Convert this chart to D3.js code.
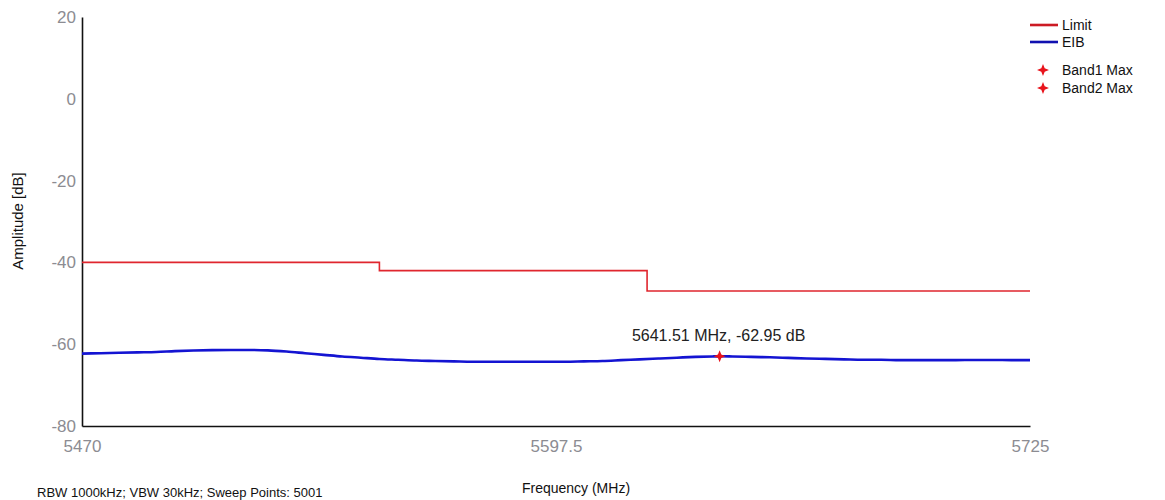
<!DOCTYPE html>
<html>
<head>
<meta charset="utf-8">
<script src="https://cdn.jsdelivr.net/npm/d3@7"></script>
<style>
  html, body { margin: 0; padding: 0; background: #fff; overflow: hidden; }
  svg { display: block; font-family: "Liberation Sans", Arial, sans-serif; }
</style>
</head>
<body>
<svg id="chart" width="1165" height="500"></svg>
<script>
// Frequency sweep (MHz) and measured EIB amplitude (dB)
const eibFreq = [5470, 5475, 5480, 5485, 5490, 5495, 5500, 5505, 5510, 5515,
  5520, 5525, 5530, 5535, 5540, 5545, 5550, 5555, 5560, 5565,
  5570, 5575, 5580, 5585, 5590, 5595, 5600, 5605, 5610, 5615,
  5620, 5625, 5630, 5635, 5640, 5641.51, 5645, 5650, 5655, 5660,
  5665, 5670, 5675, 5680, 5685, 5690, 5695, 5700, 5705, 5710,
  5715, 5720, 5725];
const eibAmp = [-62.3, -62.2, -62.1, -62.0, -61.9, -61.7, -61.55, -61.45, -61.4, -61.4,
  -61.5, -61.8, -62.2, -62.6, -63.0, -63.3, -63.6, -63.8, -64.0, -64.1,
  -64.2, -64.3, -64.3, -64.3, -64.3, -64.3, -64.3, -64.2, -64.1, -63.9,
  -63.7, -63.5, -63.3, -63.1, -62.98, -62.95, -63.0, -63.1, -63.2, -63.35,
  -63.5, -63.6, -63.7, -63.8, -63.8, -63.9, -63.9, -63.9, -63.9, -63.85,
  -63.85, -63.9, -63.9];

// Limit mask: step edges (MHz) and level (dB)
const limitFreq = [5470, 5550, 5550, 5622, 5622, 5725];
const limitAmp  = [-40, -40, -42, -42, -47, -47];

// Band maximum marker
const maxFreq = [5641.51];
const maxAmp  = [-62.95];
const maxLabel = ["5641.51 MHz, -62.95 dB"];

// Axis ticks
const xTicks = [5470, 5597.5, 5725];
const xTickLabels = ["5470", "5597.5", "5725"];
const yTicks = [20, 0, -20, -40, -60, -80];

// Legend
const legendNames = ["Limit", "EIB", "Band1 Max", "Band2 Max"];
const legendKinds = ["line", "line", "star", "star"];

const colLimit = "#e0262e";
const colEIB = "#1414d2";
const colMax = "#e8141c";

const svg = d3.select("#chart");

const x = d3.scaleLinear().domain([5470, 5725]).range([82, 1030]);
const y = d3.scaleLinear().domain([-80, 20]).range([426, 17]);

// Four-pointed star symbol for maximum markers
const star4 = {
  draw(ctx, size) {
    const r = Math.sqrt(size) * 0.75, k = r * 0.28;
    ctx.moveTo(0, -r);
    ctx.lineTo(k, -k);
    ctx.lineTo(r, 0);
    ctx.lineTo(k, k);
    ctx.lineTo(0, r);
    ctx.lineTo(-k, k);
    ctx.lineTo(-r, 0);
    ctx.lineTo(-k, -k);
    ctx.closePath();
  }
};

// Axes
const yAxis = svg.append("g")
  .attr("transform", `translate(${x.range()[0]},0)`)
  .call(d3.axisLeft(y).tickValues(yTicks).tickFormat(d => String(d))
    .tickSize(0).tickSizeOuter(0).tickPadding(6));
const xAxis = svg.append("g")
  .attr("transform", `translate(0,${y.range()[0]})`)
  .call(d3.axisBottom(x).tickValues(xTicks).tickFormat((d, i) => xTickLabels[i])
    .tickSize(0).tickSizeOuter(0).tickPadding(14));

[yAxis, xAxis].forEach(g => {
  g.select(".domain").attr("stroke", "#111").attr("stroke-width", 1.6);
  g.selectAll("text").attr("fill", "#8c8c92").attr("font-size", 17)
    .attr("font-family", "'Liberation Sans', Arial, sans-serif");
});

// Limit line
const line = d3.line().x(d => x(d[0])).y(d => y(d[1]));
svg.append("path")
  .datum(limitFreq.map((f, i) => [f, limitAmp[i]]))
  .attr("fill", "none").attr("stroke", colLimit).attr("stroke-width", 1.6)
  .attr("d", line);

// EIB trace
svg.append("path")
  .datum(eibFreq.map((f, i) => [f, eibAmp[i]]))
  .attr("fill", "none").attr("stroke", colEIB).attr("stroke-width", 2.6)
  .attr("stroke-linejoin", "round")
  .attr("d", line.curve(d3.curveMonotoneX));

// Max marker and its label
const sym = d3.symbol().type(star4).size(64);
maxFreq.forEach((f, i) => {
  svg.append("path")
    .attr("transform", `translate(${x(f)},${y(maxAmp[i])})`)
    .attr("fill", colMax).attr("d", sym);
  svg.append("text")
    .attr("x", x(f) - 1).attr("y", y(maxAmp[i]) - 15)
    .attr("text-anchor", "middle")
    .attr("font-size", 16).attr("fill", "#222")
    .text(maxLabel[i]);
});

// Axis titles
svg.append("text")
  .attr("transform", "translate(23,221) rotate(-90)")
  .attr("text-anchor", "middle").attr("font-size", 15).attr("fill", "#111")
  .text("Amplitude [dB]");
svg.append("text")
  .attr("x", 576).attr("y", 493)
  .attr("text-anchor", "middle").attr("font-size", 14).attr("fill", "#111")
  .text("Frequency (MHz)");

// Sweep settings footer
svg.append("text")
  .attr("x", 37).attr("y", 497)
  .attr("font-size", 13).attr("fill", "#111")
  .text("RBW 1000kHz; VBW 30kHz; Sweep Points: 5001");

// Legend
const legendY = [25, 42, 70, 88];
const legend = svg.append("g");
legendNames.forEach((name, i) => {
  const ly = legendY[i];
  if (legendKinds[i] === "line") {
    legend.append("line")
      .attr("x1", 1030).attr("x2", 1058).attr("y1", ly).attr("y2", ly)
      .attr("stroke", i === 0 ? "#cc1a24" : "#1010b0").attr("stroke-width", 2.6);
  } else {
    legend.append("path")
      .attr("transform", `translate(1043,${ly})`)
      .attr("fill", colMax).attr("d", sym);
  }
  legend.append("text")
    .attr("x", 1062).attr("y", ly).attr("dy", "0.35em")
    .attr("font-size", 14).attr("fill", "#111")
    .text(name);
});
</script>
</body>
</html>
